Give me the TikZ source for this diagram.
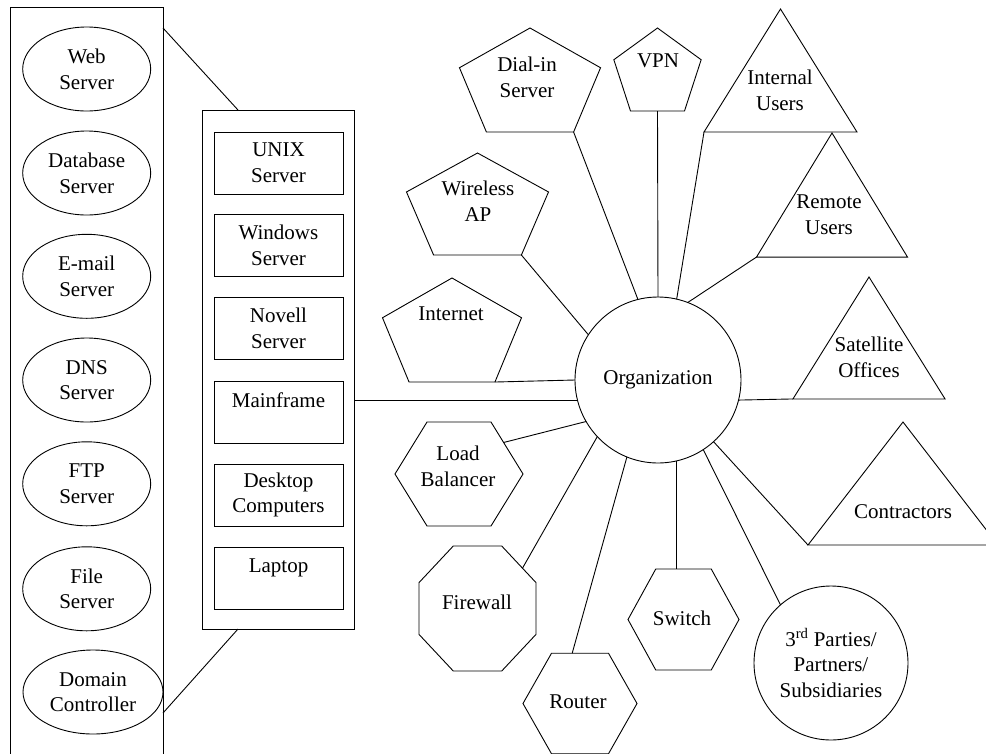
\documentclass[tikz,border=0pt]{standalone}
\usepackage{fontspec}
\setmainfont{Liberation Serif}
\usetikzlibrary{shapes.geometric}

\begin{document}
\begin{tikzpicture}[x=1pt,y=-1pt,inner sep=0pt,outer sep=0pt,line width=0.9pt,
font=\fontsize{21}{25.7}\selectfont,
srvnode/.style={draw,ellipse,minimum width=128,minimum height=84,align=center},
hostnode/.style={draw,rectangle,minimum width=129,minimum height=62,align=center},
shapetext/.style={align=center},
penta/.style={draw,regular polygon,regular polygon sides=5},
hexa/.style={draw,regular polygon,regular polygon sides=6},
octa/.style={draw,regular polygon,regular polygon sides=8},
tria/.style={draw,regular polygon,regular polygon sides=3}]
\useasboundingbox (0,0) rectangle (986,753);
\draw (86.5,403.5) node[draw,minimum width=153,minimum height=793] (srvbox) {};
\draw (86.7,69) node[srvnode] (web) {Web\\Server};
\draw (86.7,173) node[srvnode] (db) {Database\\Server};
\draw (86.7,276.3) node[srvnode] (mail) {E-mail\\Server};
\draw (86.7,380) node[srvnode] (dns) {DNS\\Server};
\draw (86.7,483.8) node[srvnode] (ftp) {FTP\\Server};
\draw (86.7,588.8) node[srvnode] (file) {File\\Server};
\draw (93,692) node[srvnode,minimum width=140] (dc) {Domain\\Controller};
\draw (278,369.5) node[draw,minimum width=152,minimum height=519] (hosts) {};
\draw (278.5,163) node[hostnode] (unix) {UNIX\\Server};
\draw (278.5,245.5) node[hostnode] (win) {Windows\\Server};
\draw (278.5,328) node[hostnode] (novell) {Novell\\Server};
\draw (278.5,412.5) node[hostnode] (mainframe) {Mainframe\\\mbox{}};
\draw (278.5,495) node[hostnode] (desktop) {Desktop\\Computers};
\draw (278.5,578) node[hostnode] (laptop) {Laptop\\\mbox{}};
\coordinate (srvtop) at (163,28);
\coordinate (srvlow) at (163,713);
\draw (srvtop) -- ([xshift=36]hosts.north west);
\draw (srvlow) -- ([xshift=36]hosts.south west);
\draw (658,380) node[draw,circle,minimum size=166] (org) {Organization};
\draw (530,85.5) node[penta,minimum size=115,xscale=1.29] (dial) {};
\draw (527,77.5) node[shapetext] (dialt) {Dial-in\\Server};
\draw (657.5,73.9) node[penta,minimum size=91.8] (vpn) {};
\draw (658,61) node[shapetext] (vpnt) {VPN};
\draw (477.5,209.4) node[penta,minimum size=112.8,xscale=1.324] (wap) {};
\draw (478,201.5) node[shapetext] (wapt) {Wireless\\AP};
\draw (452,335.5) node[penta,minimum size=115,xscale=1.271] (inet) {};
\draw (451,314) node[shapetext] (inett) {Internet};
\draw (459,474) node[hexa,minimum size=120,xscale=1.067] (lb) {};
\draw (458,466) node[shapetext] (lbt) {Load\\Balancer};
\draw (477.5,608.5) node[octa,minimum size=135.3,xscale=0.936] (fw) {};
\draw (477,602) node[shapetext] (fwt) {Firewall};
\draw (580,703.5) node[hexa,minimum size=116,xscale=0.983] (rt) {};
\draw (578,702) node[shapetext] (rtt) {Router};
\draw (683.5,619.5) node[hexa,minimum size=116.6,xscale=0.952] (sw) {};
\draw (682,618) node[shapetext] (swt) {Switch};
\draw (831,663) node[draw,circle,minimum size=154,align=center] (third) {3\textsuperscript{rd} Parties/\\Partners/\\Subsidiaries};
\draw (780.5,91) node[tria,minimum size=164,xscale=1.077] (iusr) {};
\draw (780,90) node[shapetext] (iusrt) {Internal\\Users};
\draw (832,215.7) node[tria,minimum size=165.4,xscale=1.054] (rusr) {};
\draw (829,215) node[shapetext] (rusrt) {Remote\\Users};
\draw (869,358.3) node[tria,minimum size=162.6,xscale=1.08] (sat) {};
\draw (869,357.5) node[shapetext] (satt) {Satellite\\Offices};
\draw (903,504) node[tria,minimum size=164,xscale=1.338] (con) {};
\draw (903,512) node[shapetext] (cont) {Contractors};
\draw (org.194) -- (org.194 -| hosts.east);
\draw (inet.corner 4) -- (org.west);
\draw (wap.corner 4) -- (org.147.6);
\draw (dial.corner 4) -- (org.104);
\draw (vpn.south) -- (org.north);
\draw (iusr.corner 2) -- (org.77.6);
\draw (rusr.corner 2) -- (org.69.4);
\draw (sat.corner 2) -- (org.-14);
\draw (con.corner 2) -- (org.-48);
\draw (third.131.8) -- (org.-57.4);
\draw (org.-77.5) -- (org.-77.5 |- sw.north);
\draw (rt.99) -- (org.248.6);
\draw (fw.40) -- (org.223);
\draw (lb.37) -- (org.210.3);
\end{tikzpicture}
\end{document}
